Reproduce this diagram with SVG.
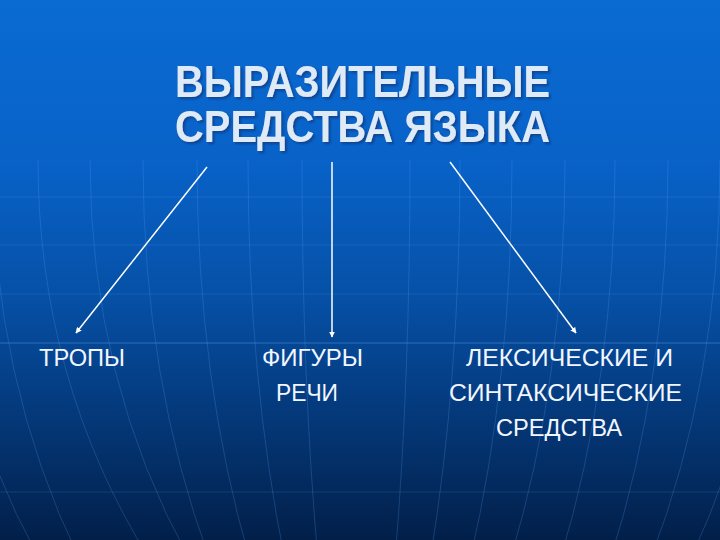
<svg xmlns="http://www.w3.org/2000/svg" width="720" height="540" viewBox="0 0 720 540">
<style>
.title{font-family:"Liberation Sans",Arial,sans-serif;font-weight:bold;font-size:44px;fill:#dfeaf7}
.lbl{font-family:"Liberation Sans",Arial,sans-serif;font-size:24px;fill:#f2f6ff}
.conn{stroke:#ffffff;stroke-width:1.5;fill:none}
.grid{stroke:#5aa0f0;stroke-width:1;fill:none}
</style>
<defs>
<linearGradient id="bg" x1="0" y1="0" x2="0" y2="1">
<stop offset="0" stop-color="#0a6bd3"/>
<stop offset="0.3" stop-color="#0862c8"/>
<stop offset="0.55" stop-color="#0650a6"/>
<stop offset="0.8" stop-color="#043573"/>
<stop offset="1" stop-color="#021f49"/>
</linearGradient>
<filter id="sh" x="-10%" y="-30%" width="120%" height="160%">
<feDropShadow dx="2" dy="2" stdDeviation="0.8" flood-color="#0a2f6a" flood-opacity="0.6"/>
</filter>
<marker id="ah" viewBox="0 0 10 10" refX="9" refY="5" markerWidth="6" markerHeight="6" orient="auto" markerUnits="userSpaceOnUse">
<path d="M0,0 L10,5 L0,10 z" fill="#ffffff"/>
</marker>
</defs>
<rect width="720" height="540" fill="url(#bg)"/>
<g id="background-grid">
<g class="grid" opacity="0.18">
<line x1="0" y1="197" x2="720" y2="197"/>
<line x1="0" y1="245" x2="720" y2="245"/>
<line x1="0" y1="294" x2="720" y2="294"/>
<line x1="0" y1="492" x2="720" y2="492"/>
</g>
<line x1="0" y1="343" x2="720" y2="343" class="grid" opacity="0.45"/>
<g class="grid" opacity="0.24">
<path d="M-60,160 Q-60,380 40,560"/>
<path d="M-8,160 Q-8,380 80,560"/>
<path d="M38,160 Q38,380 150,560"/>
<path d="M90,160 Q90,380 190,560"/>
<path d="M143,160 Q143,380 210,560"/>
<path d="M197,160 Q197,380 250,560"/>
<path d="M248,160 Q248,380 285,560"/>
<path d="M302,160 Q302,380 318,560"/>
<path d="M410,160 Q410,380 395,560"/>
<path d="M460,160 Q460,380 430,560"/>
<path d="M512,160 Q512,380 470,560"/>
<path d="M565,160 Q565,380 510,560"/>
<path d="M615,160 Q615,380 560,560"/>
<path d="M668,160 Q668,380 610,560"/>
<path d="M720,160 Q720,380 650,560"/>
<path d="M775,160 Q775,380 690,560"/>
</g>
</g>
<g id="title" filter="url(#sh)">
<text class="title" x="175" y="97" textLength="375" lengthAdjust="spacingAndGlyphs">ВЫРАЗИТЕЛЬНЫЕ</text>
<text class="title" x="175" y="142" textLength="375" lengthAdjust="spacingAndGlyphs">СРЕДСТВА ЯЗЫКА</text>
</g>
<g id="connectors">
<line class="conn" x1="207" y1="167" x2="76" y2="333" marker-end="url(#ah)"/>
<line class="conn" x1="332" y1="162" x2="332" y2="337" marker-end="url(#ah)"/>
<line class="conn" x1="450" y1="162" x2="576" y2="333" marker-end="url(#ah)"/>
</g>
<g id="node-tropy">
<text class="lbl" x="39" y="366" textLength="86" lengthAdjust="spacingAndGlyphs">ТРОПЫ</text>
</g>
<g id="node-figury">
<text class="lbl" x="262" y="366" textLength="101" lengthAdjust="spacingAndGlyphs">ФИГУРЫ</text>
<text class="lbl" x="276" y="401" textLength="62" lengthAdjust="spacingAndGlyphs">РЕЧИ</text>
</g>
<g id="node-leksicheskie">
<text class="lbl" x="466" y="366" textLength="207" lengthAdjust="spacingAndGlyphs">ЛЕКСИЧЕСКИЕ И</text>
<text class="lbl" x="449" y="401" textLength="233" lengthAdjust="spacingAndGlyphs">СИНТАКСИЧЕСКИЕ</text>
<text class="lbl" x="496" y="436" textLength="126" lengthAdjust="spacingAndGlyphs">СРЕДСТВА</text>
</g>
</svg>
